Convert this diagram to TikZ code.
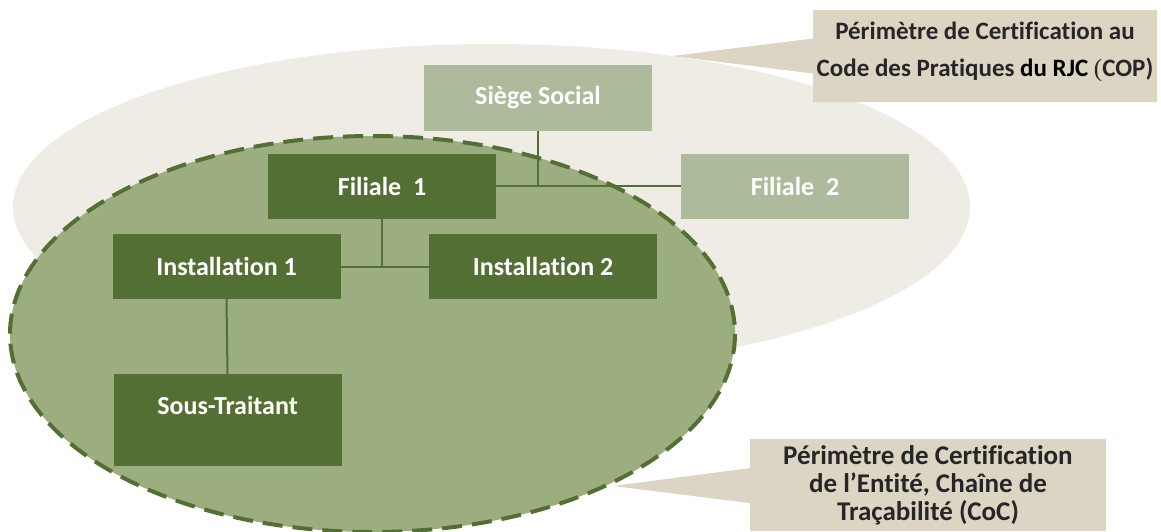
\documentclass[tikz,border=0pt]{standalone}
\usepackage{fontspec}
\setmainfont{Carlito}[Ligatures=NoCommon]
\newfontfamily\thinparen{Liberation Serif}
\usetikzlibrary{shapes.callouts}
\definecolor{sand}{HTML}{EFEBE5}
\definecolor{wheat}{HTML}{DDD5C3}
\definecolor{moss}{HTML}{9CAD7F}
\definecolor{olive}{HTML}{546F33}
\definecolor{sage}{HTML}{ADBA9B}
\definecolor{ink}{HTML}{262626}

\begin{document}
\begin{tikzpicture}[x=1pt,y=-1pt,
    unit/.style={rectangle,minimum width=228pt,minimum height=65pt,inner sep=0pt,text=white,font=\bfseries\fontsize{26}{28}\selectfont},
    darkunit/.style={unit,fill=olive},
    paleunit/.style={unit,fill=sage},
    link/.style={draw=olive,line width=2pt},
    note/.style={rectangle callout,fill=wheat,text=ink,align=center,inner sep=0pt,callout pointer width=35pt}]
        \useasboundingbox (0,0) rectangle (1161,531);
        \fill[sand] (491.5,207) ellipse [x radius=478.5, y radius=163];
        \filldraw[fill=moss,draw=olive,line width=4pt,dash pattern=on 20pt off 10pt] (372.5,334) ellipse [x radius=362.5, y radius=198];
        \node[paleunit,minimum height=66pt] (siege) at (538,98) {Siège Social};
        \node[darkunit] (fil1) at (382,186) {Filiale\ \ 1};
        \node[paleunit] (fil2) at (795,186) {Filiale\ \ 2};
        \node[darkunit] (inst1) at (226.5,266.5) {Installation 1};
        \node[darkunit] (inst2) at (543,266.5) {Installation 2};
        \node[darkunit,minimum height=92pt,text depth=30pt] (sous) at (227.5,420) {Sous-Traitant};
        \draw[link] (siege.south) -- (siege.south |- fil1.east);
        \draw[link] (fil1.east) -- (fil2.west);
        \draw[link] (fil1.south) -- (fil1.south |- inst1.east);
        \draw[link] (inst1.east) -- (inst2.west);
        \draw[link] (inst1.south) -- (sous.north);
        \node[note,minimum width=344pt,minimum height=92pt,text depth=14pt,callout absolute pointer={(672,56)},font=\bfseries\fontsize{25}{37}\selectfont] (cop) at (985,56) {Périmètre de Certification au\\Code des Pratiques {\color{black}du RJC} {\thinparen\mdseries(}COP)};
        \node[note,minimum width=356pt,minimum height=92pt,callout absolute pointer={(613,486)},font=\bfseries\fontsize{27}{28}\selectfont] (coc) at (928,485) {Périmètre de Certification\\de l’Entité, Chaîne de\\Traçabilité (CoC)};
      \end{tikzpicture}
\end{document}
